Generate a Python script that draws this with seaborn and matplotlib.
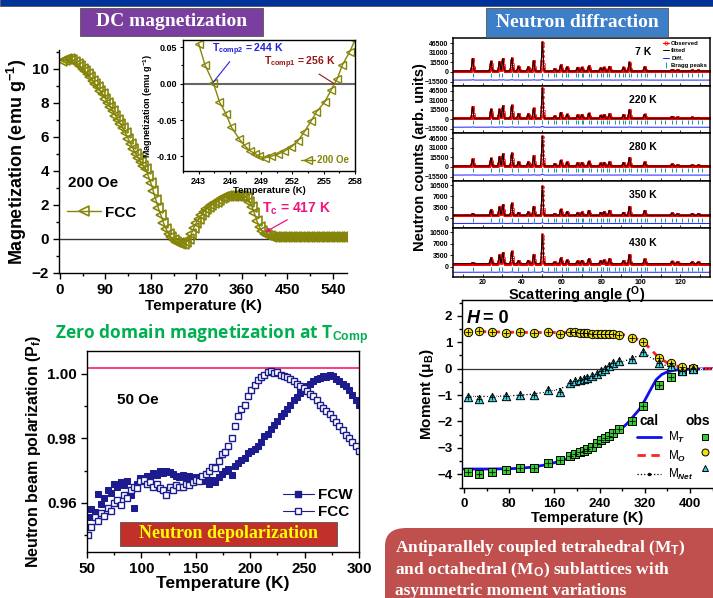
import numpy as np
import matplotlib
matplotlib.use("Agg")
import matplotlib.pyplot as plt
import seaborn as sns
from matplotlib.lines import Line2D
from matplotlib.patches import Rectangle, FancyBboxPatch
from matplotlib.ticker import MultipleLocator

# ---------------- data ----------------
# DC magnetization, 200 Oe, FCC (T every 5 K)
T_dc = np.arange(5, 580, 5)
M_dc = [10.45, 10.5, 10.55, 10.55, 10.5, 10.4, 10.3, 10.15, 10.0, 9.85,
        9.7, 9.5, 9.3, 9.1, 8.9, 8.7, 8.5, 8.25, 8.0, 7.75,
        7.5, 7.25, 7.0, 6.75, 6.5, 6.2, 5.9, 5.6, 5.3, 5.0,
        4.75, 4.5, 4.3, 4.1, 3.7, 3.3, 2.8, 2.3, 1.8, 1.4,
        0.95, 0.6, 0.3, 0.1, -0.05, -0.15, -0.25, -0.3, -0.3, -0.2,
        0.0, 0.3, 0.65, 0.95, 1.2, 1.4, 1.6, 1.75, 1.9, 2.0,
        2.1, 2.2, 2.3, 2.38, 2.45, 2.5, 2.52, 2.55, 2.55, 2.55,
        2.55, 2.52, 2.48, 2.4, 2.2, 1.9, 1.5, 1.05, 0.7, 0.45,
        0.3, 0.22, 0.17, 0.14, 0.12] + [0.1] * 30

# inset: compensation region
T_in = [243.0, 243.6, 244.4, 245.0, 245.6, 246.15, 246.9, 247.4, 247.9, 248.4,
        248.8, 249.4, 249.9, 250.6, 251.2, 251.9, 252.5, 253.1, 253.8, 254.3,
        255.1, 255.7, 256.3, 256.8, 257.5, 258.0]
M_in = [0.055, 0.026, 0.0014, -0.025, -0.041, -0.060, -0.076, -0.085, -0.092, -0.096,
        -0.100, -0.102, -0.100, -0.097, -0.093, -0.087, -0.079, -0.067, -0.051, -0.039,
        -0.025, -0.009, 0.007, 0.026, 0.044, 0.060]

# neutron diffraction: peak positions (deg) and heights per temperature
diff_temps = ["7 K", "220 K", "280 K", "350 K", "430 K"]
peak_pos = [14.9, 24.2, 28.5, 30.2, 34.7, 38.1, 43.0, 45.8, 50.2, 56.4, 59.5, 62.7,
            68.0, 70.2, 73.7, 79.7, 81.4, 84.1, 91.2, 94.2, 101.9, 115.8, 118.5,
            125.9, 129.0]
h_7 = [20000, 15500, 15000, 20000, 21000, 7500, 6500, 16500, 47000, 3500, 9500, 6500,
       5500, 5800, 8000, 4800, 5800, 7000, 5800, 14000, 6500, 2200, 1500, 1200, 1000]
h_220 = [19000, 15000, 15000, 20500, 21500, 7500, 7000, 16500, 50000, 3500, 9500, 6500,
         5500, 5800, 8000, 4800, 5800, 7000, 5800, 14000, 6500, 3000, 1500, 1500, 1200]
h_280 = [11000, 12500, 15000, 19500, 21000, 6500, 6500, 16000, 48000, 3500, 9000, 6000,
         5000, 5500, 7500, 4500, 5500, 6500, 5500, 13500, 6000, 3000, 1500, 1500, 1200]
h_350 = [500, 1800, 2700, 3400, 3900, 900, 1000, 2800, 9300, 500, 1900, 1200,
         800, 1000, 1500, 900, 1100, 1500, 900, 2800, 1500, 700, 500, 500, 500]
h_430 = [300, 1800, 2700, 3400, 3800, 900, 1000, 2800, 9000, 500, 1800, 1100,
         800, 1000, 1500, 900, 1100, 1500, 900, 2800, 1400, 700, 500, 500, 500]
heights = [h_7, h_220, h_280, h_350, h_430]
backgrounds = [1500, 1500, 1500, 900, 900]
diff_offsets = [-13000, -13000, -13000, -1700, -1700]
bragg_y = [-5000, -5000, -5000, -700, -700]
bragg_pos = [15, 24, 28.5, 30, 35, 38, 43, 46, 50, 53, 56, 57, 60, 62, 63, 67, 68, 70,
             71, 74, 75, 78, 80, 81, 83, 84, 87, 89, 91, 92, 94, 95, 98, 100, 102, 103,
             107, 110, 112, 116, 118, 121, 124, 126, 129, 131]

# neutron depolarization, 50 Oe
T_pol = [51, 54, 57, 60, 63, 66, 69, 72, 75, 78, 81, 84, 87, 90, 93, 96, 99, 102, 105,
         108, 111, 114, 117, 120, 123, 126, 129, 132, 135, 138, 141, 144, 147, 150, 153,
         156, 159, 162, 165, 168, 171, 174, 177, 180, 183, 186, 189, 192, 195, 198, 201,
         204, 207, 210, 213, 216, 219, 222, 225, 228, 231, 234, 237, 240, 243, 246, 249,
         252, 255, 258, 261, 264, 267, 270, 273, 276, 279, 282, 285, 288, 291, 294, 297, 300]
P_fcw = [0.9555, 0.9580, 0.9572, 0.9628, 0.9598, 0.9615, 0.9640, 0.9632, 0.9660, 0.9648,
         0.9665, 0.9655, 0.9668, 0.9625, 0.9585, 0.9660, 0.9678, 0.9672, 0.9685, 0.9680,
         0.9692, 0.9688, 0.9698, 0.9692, 0.9700, 0.9695, 0.9690, 0.9684, 0.9680, 0.9688,
         0.9678, 0.9685, 0.9676, 0.9680, 0.9672, 0.9668, 0.9675, 0.9660, 0.9670, 0.9665,
         0.9680, 0.9690, 0.9700, 0.9705, 0.9688, 0.9715, 0.9725, 0.9732, 0.9740, 0.9755,
         0.9762, 0.9768, 0.9775, 0.9790, 0.9808, 0.9815, 0.9830, 0.9842, 0.9855, 0.9868,
         0.9878, 0.9892, 0.9905, 0.9918, 0.9928, 0.9940, 0.9952, 0.9962, 0.9970, 0.9978,
         0.9985, 0.9988, 0.9992, 0.9990, 0.9998, 0.9992, 0.9985, 0.9978, 0.9970, 0.9962,
         0.9950, 0.9935, 0.9920, 0.9905]
P_fcc = [0.9500, 0.9525, 0.9555, 0.9545, 0.9568, 0.9560, 0.9585, 0.9575, 0.9600, 0.9610,
         0.9595, 0.9625, 0.9615, 0.9640, 0.9650, 0.9645, 0.9668, 0.9672, 0.9660, 0.9665,
         0.9650, 0.9658, 0.9645, 0.9640, 0.9625, 0.9648, 0.9640, 0.9655, 0.9650, 0.9648,
         0.9660, 0.9655, 0.9665, 0.9672, 0.9668, 0.9685, 0.9690, 0.9700, 0.9712, 0.9708,
         0.9730, 0.9752, 0.9758, 0.9775, 0.9800, 0.9840, 0.9870, 0.9890, 0.9905, 0.9930,
         0.9950, 0.9965, 0.9980, 0.9990, 0.9998, 1.0005, 1.0008, 1.0002, 1.0005, 0.9998,
         0.9995, 0.9990, 0.9985, 0.9978, 0.9970, 0.9962, 0.9955, 0.9948, 0.9938, 0.9930,
         0.9918, 0.9905, 0.9895, 0.9885, 0.9875, 0.9862, 0.9850, 0.9840, 0.9825, 0.9812,
         0.9800, 0.9790, 0.9778, 0.9762]

# sublattice moments, H = 0
T_obs = [7, 26, 50, 75, 99, 124, 149, 170, 187, 196, 205, 212, 218, 227, 236, 243, 249,
         256, 264, 275, 297, 317, 346, 366, 385, 406]
M_T_obs = [-3.92, -3.98, -3.90, -3.82, -3.76, -3.77, -3.56, -3.47, -3.32, -3.24, -3.17,
           -3.10, -3.04, -2.95, -2.83, -2.72, -2.63, -2.55, -2.45, -2.30, -1.98, -1.40,
           -0.62, -0.30, -0.10, -0.02]
M_O_obs = [1.40, 1.42, 1.37, 1.36, 1.37, 1.36, 1.37, 1.31, 1.39, 1.37, 1.36, 1.35, 1.34,
           1.33, 1.33, 1.32, 1.31, 1.31, 1.30, 1.29, 1.15, 1.00, 0.42, 0.21, 0.06, 0.01]
M_N_obs = [-1.07, -1.14, -1.07, -1.04, -1.00, -1.01, -0.79, -0.89, -0.54, -0.47, -0.44,
           -0.41, -0.36, -0.29, -0.19, -0.10, 0.00, 0.11, 0.21, 0.30, 0.37, 0.62, 0.21,
           0.09, -0.07, 0.00]
T_cal_T = [0, 40, 80, 100, 120, 140, 160, 180, 200, 220, 240, 260, 280, 290, 300, 310,
           320, 330, 340, 350, 360, 370, 380, 400, 420, 440]
M_T_cal = [-3.8, -3.8, -3.79, -3.77, -3.73, -3.66, -3.56, -3.43, -3.26, -3.06, -2.83,
           -2.57, -2.25, -2.05, -1.8, -1.55, -1.2, -0.8, -0.42, -0.22, -0.12, -0.07,
           -0.04, -0.02, -0.01, 0.0]
T_cal_O = [0, 40, 80, 120, 160, 200, 240, 280, 300, 310, 320, 330, 340, 350, 360, 370,
           380, 400, 420, 440]
M_O_cal = [1.42, 1.40, 1.38, 1.37, 1.37, 1.36, 1.34, 1.30, 1.18, 1.08, 0.95, 0.75, 0.52,
           0.35, 0.22, 0.13, 0.08, 0.03, 0.01, 0.0]
T_cal_N = [5, 20, 40, 60, 80, 100, 120, 140, 160, 180, 200, 220, 240, 260, 280, 300, 310,
           320, 330, 340, 350, 360, 370, 380, 400, 420, 440]
M_N_cal = [-1.05, -1.05, -1.05, -1.04, -1.03, -1.0, -0.97, -0.9, -0.82, -0.68, -0.5,
           -0.34, -0.16, 0.05, 0.25, 0.42, 0.5, 0.58, 0.45, 0.3, 0.18, 0.1, 0.05, 0.02,
           0.0, 0.0, 0.0]

# ---------------- style ----------------
sns.set_theme(style="ticks")
plt.rcParams['font.family'] = ['Liberation Sans', 'DejaVu Sans']
plt.rcParams.update({
    'font.weight': 'bold', 'axes.labelweight': 'bold',
    'mathtext.fontset': 'custom', 'mathtext.rm': 'Liberation Sans',
    'mathtext.it': 'Liberation Sans:italic', 'mathtext.bf': 'Liberation Sans:bold',
    'axes.linewidth': 1.0, 'axes.edgecolor': 'black',
    'xtick.color': 'black', 'ytick.color': 'black',
    'text.color': 'black', 'axes.labelcolor': 'black',
    'xtick.direction': 'out', 'ytick.direction': 'out',
})

W, H = 713, 598
fig = plt.figure(figsize=(W / 100, H / 100), dpi=100)


def box(x0, y0, x1, y1):
    return [x0 / W, 1 - y1 / H, (x1 - x0) / W, (y1 - y0) / H]


def fig_rect(x0, y0, x1, y1, color, rounded=False):
    if rounded:
        p = FancyBboxPatch((x0 / W, 1 - y1 / H), (x1 - x0) / W, (y1 - y0) / H,
                           boxstyle="round,pad=0,rounding_size=0.03",
                           transform=fig.transFigure, facecolor=color, edgecolor='none')
    else:
        p = Rectangle((x0 / W, 1 - y1 / H), (x1 - x0) / W, (y1 - y0) / H,
                      transform=fig.transFigure, facecolor=color, edgecolor='#555555', lw=0.6)
    fig.patches.append(p)


OLIVE = '#85850a'
NAVY = '#1c1c8e'

# top band and title boxes
fig_rect(0, -2, W, 6, '#003399')
fig_rect(80, 8, 263, 36, '#7a3f9e')
fig.text(171.5 / W, 1 - 22 / H, "DC magnetization", color='white', ha='center', va='center',
         family='Liberation Serif', fontsize=14, weight='bold')
fig_rect(486, 8, 668, 37, '#3d7ec9')
fig.text(577 / W, 1 - 22.5 / H, "Neutron diffraction", color='white', ha='center', va='center',
         family='Liberation Serif', fontsize=14, weight='bold')

# ---------------- panel 1: DC magnetization ----------------
ax1 = fig.add_axes(box(59.3, 50, 347, 273))
ax1.axhline(0, color='#333333', lw=1)
sns.lineplot(x=T_dc, y=M_dc, ax=ax1, color=OLIVE, lw=1, marker='<', markersize=7,
             markerfacecolor='none', markeredgecolor=OLIVE, markeredgewidth=1.2,
             label='FCC')
ax1.set_xlim(-1, 568)
ax1.set_ylim(-2, 11.1)
ax1.xaxis.set_major_locator(MultipleLocator(90))
ax1.xaxis.set_minor_locator(MultipleLocator(45))
ax1.yaxis.set_major_locator(MultipleLocator(2))
ax1.yaxis.set_minor_locator(MultipleLocator(1))
ax1.tick_params(labelsize=11, length=4, width=1)
ax1.tick_params(which='minor', length=2.5, width=1)
ax1.spines[['top', 'right']].set_visible(False)
ax1.set_xlabel("Temperature (K)", fontsize=11, labelpad=1)
ax1.set_ylabel(r"Magnetization (emu g$^{\mathbf{-1}}$)", fontsize=13, labelpad=2)
ax1.legend(loc='center left', bbox_to_anchor=(-0.02, 0.27), frameon=False, fontsize=11,
           handlelength=2.2, handletextpad=0.3)
ax1.text(65, 3.3, "200 Oe", fontsize=11, weight='bold', ha='center', va='center')
ax1.annotate(r"T$_{\mathbf{c}}$ = 417 K", xy=(406, 0.4), xytext=(400, 1.8), color='#f0147c',
             fontsize=10, weight='bold', va='center',
             arrowprops=dict(arrowstyle='-|>', color='#f0147c', lw=0.9,
                             shrinkA=0, shrinkB=0, mutation_scale=6,
                             relpos=(0.45, 0.0)))

# inset
axi = fig.add_axes(box(183, 40, 355, 171))
axi.axhline(0, color='#666666', lw=1.5)
sns.lineplot(x=T_in, y=M_in, ax=axi, color=OLIVE, lw=1, marker='<', markersize=5.5,
             markerfacecolor='none', markeredgecolor=OLIVE, markeredgewidth=1.0,
             label='200 Oe')
axi.set_xlim(241.5, 258)
axi.set_ylim(-0.12, 0.06)
axi.set_xticks([243, 246, 249, 252, 255, 258])
axi.set_yticks([0.05, 0.0, -0.05, -0.10])
axi.set_yticklabels(["0.05", "0.00", "-0.05", "-0.10"])
axi.yaxis.set_minor_locator(MultipleLocator(0.025))
axi.xaxis.set_minor_locator(MultipleLocator(1.5))
axi.tick_params(labelsize=6.5, length=2.5, width=0.8, pad=1.5)
axi.tick_params(which='minor', length=1.5, width=0.8)
axi.set_xlabel("Temperature (K)", fontsize=6.8, labelpad=0)
axi.set_ylabel(r"Magnetization (emu g$^{\mathbf{-1}}$)", fontsize=6.5, labelpad=1)
leg = axi.legend(loc='lower right', frameon=False, fontsize=7, handlelength=1.5,
                 handletextpad=0.2, borderaxespad=0.2)
for t in leg.get_texts():
    t.set_color(OLIVE)
axi.annotate(r"T$_{\mathbf{comp2}}$ = 244 K", xy=(244.37, 0.0014), xytext=(244.3, 0.046),
             color='#2222dd', fontsize=7.5, weight='bold', va='center',
             arrowprops=dict(arrowstyle='-', color='#2222dd', lw=0.8,
                             shrinkA=0, shrinkB=0, relpos=(0.3, 0.1)))
axi.annotate(r"T$_{\mathbf{comp1}}$ = 256 K", xy=(256.0, 0.0), xytext=(249.3, 0.029),
             color='#991515', fontsize=7.5, weight='bold', va='center',
             arrowprops=dict(arrowstyle='-', color='#991515', lw=0.8,
                             shrinkA=0, shrinkB=0, relpos=(0.62, 0.2)))

# ---------------- panel 2: neutron diffraction ----------------
two_theta = np.arange(5, 135.05, 0.1)
edges = [38, 86, 133, 181, 228, 277]
for i, lab in enumerate(diff_temps):
    ax = fig.add_axes(box(453, edges[i], 710, edges[i + 1]))
    prof = np.full_like(two_theta, float(backgrounds[i]))
    for p, hh in zip(peak_pos, heights[i]):
        prof += hh * np.exp(-0.5 * ((two_theta - p) / 0.35) ** 2)
    ax.plot(two_theta, prof, color='red', lw=0.8, marker='o', ms=1.6, mfc='none',
            mew=0.5, label='Observed')
    ax.plot(two_theta, prof, color='black', lw=0.7, label='fitted')
    ax.plot(two_theta, diff_offsets[i] + 0.03 * (prof - backgrounds[i]), color='#1a1aff',
            lw=0.7, label='Diff.')
    ax.plot(bragg_pos, [bragg_y[i]] * len(bragg_pos), ls='none', marker='|', ms=3,
            color='#159999', mew=0.7, label='Bragg peaks')
    ax.set_xlim(5, 135)
    if i < 3:
        ax.set_ylim(-22500, 54600)
        ax.set_yticks([46500, 31000, 15500, 0, -15500])
    else:
        ax.set_ylim(-3150, 11865)
        ax.set_yticks([10500, 7000, 3500, 0])
    ax.xaxis.set_major_locator(MultipleLocator(20))
    ax.xaxis.set_minor_locator(MultipleLocator(10))
    ax.tick_params(axis='both', which='both', direction='in', labelsize=5, length=2,
                   width=0.6, pad=1.2)
    ax.tick_params(axis='y', which='major', direction='out')
    for s in ax.spines.values():
        s.set_linewidth(1.1)
    if i < 4:
        ax.tick_params(axis='x', labelbottom=False)
    ax.text(0.74, 0.70, lab, transform=ax.transAxes, fontsize=7.5, weight='bold',
            ha='center', va='center')
    if i == 0:
        ax.legend(loc='upper right', frameon=False, fontsize=4.3, handlelength=1.0,
                  handletextpad=0.3, labelspacing=0.35, borderaxespad=0.1,
                  markerscale=1.5)
fig.text(420 / W, 1 - 157 / H, "Neutron counts (arb. units)", rotation=90, ha='center',
         va='center', fontsize=10.5, weight='bold')
fig.text(577 / W, 1 - 295.5 / H, r"Scattering angle ($^{\mathbf{O}}$)", ha='center',
         va='center', fontsize=10.5, weight='bold')

# ---------------- panel 3: neutron depolarization ----------------
fig.text(212 / W, 1 - 335 / H, r"Zero domain magnetization at T$_{\mathbf{Comp}}$",
         color='#00b050', ha='center', va='center', fontsize=12.5, weight='bold',
         family='Open Sans')
ax3 = fig.add_axes(box(87, 351, 359, 552))
ax3.axhline(1.0019, color='#ff1a66', lw=1.2)
sns.lineplot(x=T_pol, y=P_fcw, ax=ax3, color=NAVY, lw=0.8, marker='s', markersize=5,
             markerfacecolor=NAVY, markeredgecolor=NAVY, label='FCW')
sns.lineplot(x=T_pol, y=P_fcc, ax=ax3, color=NAVY, lw=0.8, marker='s', markersize=5,
             markerfacecolor='white', markeredgecolor=NAVY, markeredgewidth=1.0,
             label='FCC')
for ln in ax3.lines[1:]:
    ln.set_linestyle('none')
ax3.set_xlim(50, 300)
ax3.set_ylim(0.9448, 1.0071)
ax3.xaxis.set_major_locator(MultipleLocator(50))
ax3.xaxis.set_minor_locator(MultipleLocator(25))
ax3.yaxis.set_major_locator(MultipleLocator(0.02))
ax3.yaxis.set_minor_locator(MultipleLocator(0.01))
ax3.set_yticks([0.96, 0.98, 1.00])
ax3.set_yticklabels(["0.96", "0.98", "1.00"])
ax3.tick_params(labelsize=11, length=4, width=1)
ax3.tick_params(which='minor', length=2.5, width=1)
ax3.set_xlabel("Temperature (K)", fontsize=12.5, labelpad=0)
ax3.set_ylabel(r"Neutron beam polarization (P$_{\mathbf{f}}$)", fontsize=11.5, labelpad=3)
ax3.text(97, 0.9918, "50 Oe", fontsize=11, weight='bold', ha='center', va='center')
h3 = [Line2D([], [], color=NAVY, lw=0.8, marker='s', ms=5, mfc=NAVY),
      Line2D([], [], color=NAVY, lw=0.8, marker='s', ms=5, mfc='white')]
ax3.legend(h3, ['FCW', 'FCC'], loc='upper left', bbox_to_anchor=(0.67, 0.385),
           frameon=False, fontsize=11, handlelength=2.0, handletextpad=0.3,
           labelspacing=0.2)
fig_rect(120, 522, 337, 546, '#c2302a')
fig.text(228.5 / W, 1 - 534 / H, "Neutron depolarization", color='#ffff00', ha='center',
         va='center', family='Liberation Serif', fontsize=13, weight='bold')

# ---------------- panel 4: sublattice moments ----------------
ax4 = fig.add_axes(box(462, 300, 713, 488.3))
ax4.axhline(0, color='#333333', lw=0.9)
sns.lineplot(x=T_cal_T, y=M_T_cal, ax=ax4, color='#1010ee', lw=2)
sns.lineplot(x=T_cal_O, y=M_O_cal, ax=ax4, color='#ff2020', lw=2, linestyle=(0, (3, 2)))
sns.lineplot(x=T_cal_N, y=M_N_cal, ax=ax4, color='black', lw=0.9, linestyle=':',
             marker='.', markersize=3)
for yy, col, mk in [(M_T_obs, '#33cc33', 's'), (M_O_obs, '#f2e00c', 'o'),
                    (M_N_obs, '#33d6e6', '^')]:
    sns.scatterplot(x=T_obs, y=yy, ax=ax4, color=col, marker=mk, s=36,
                    edgecolor='black', linewidth=0.7, zorder=3)
    sns.scatterplot(x=T_obs, y=yy, ax=ax4, color='black', marker='+', s=14,
                    linewidth=0.6, zorder=4)
ax4.set_xlim(-3.5, 440.7)
ax4.set_ylim(-4.53, 2.6)
ax4.xaxis.set_major_locator(MultipleLocator(80))
ax4.xaxis.set_minor_locator(MultipleLocator(40))
ax4.yaxis.set_major_locator(MultipleLocator(1))
ax4.yaxis.set_minor_locator(MultipleLocator(0.5))
ax4.tick_params(labelsize=9.5, length=3.5, width=1)
ax4.tick_params(which='minor', length=2, width=1)
ax4.spines['right'].set_visible(False)
ax4.set_xlabel("Temperature (K)", fontsize=10.5, labelpad=1)
ax4.set_ylabel(r"Moment (μ$_{\mathbf{B}}$)", fontsize=11, labelpad=1)
ax4.text(0.02, 0.9, "H", transform=ax4.transAxes, fontsize=13, weight='bold',
         style='italic', va='center')
ax4.text(0.083, 0.9, "= 0", transform=ax4.transAxes, fontsize=13, weight='bold',
         va='center')
h4 = [Line2D([], [], color='#1010ee', lw=2),
      Line2D([], [], color='#ff2020', lw=2, ls=(0, (3, 2))),
      Line2D([], [], color='black', lw=0.9, ls=':', marker='.', ms=3),
      Line2D([], [], ls='none', marker='s', ms=5, mfc='#33cc33', mec='black', mew=0.7),
      Line2D([], [], ls='none', marker='o', ms=5, mfc='#f2e00c', mec='black', mew=0.7),
      Line2D([], [], ls='none', marker='^', ms=5, mfc='#33d6e6', mec='black', mew=0.7)]
lab4 = [r"M$_{\mathit{T}}$", r"M$_{\mathit{O}}$", r"M$_{\mathit{Net}}$", "", "", ""]
leg4 = ax4.legend(h4, lab4, ncol=2, loc='upper left', bbox_to_anchor=(0.68, 0.335),
                  frameon=False, fontsize=8.5, handlelength=2.0, handletextpad=0.6,
                  columnspacing=0.0, labelspacing=0.3, borderaxespad=0)
for t in leg4.get_texts():
    t.set_fontweight('normal')
ax4.text(0.745, 0.355, "cal", transform=ax4.transAxes, fontsize=10, weight='bold',
         ha='center', va='center')
ax4.text(0.94, 0.355, "obs", transform=ax4.transAxes, fontsize=10, weight='bold',
         ha='center', va='center')

# bottom-right summary box
fig_rect(385, 528, 740, 640, '#c0504d', rounded=True)
for yy, line in [(548, r"Antiparallely coupled tetrahedral (M$_{\mathbf{T}}$)"),
                 (570, r"and octahedral (M$_{\mathbf{O}}$) sublattices with"),
                 (591, "asymmetric moment variations")]:
    fig.text(395 / W, 1 - yy / H, line, color='white', ha='left', va='center',
             family='Liberation Serif', fontsize=12.5, weight='bold')

fig.savefig("out.png", dpi=100)
